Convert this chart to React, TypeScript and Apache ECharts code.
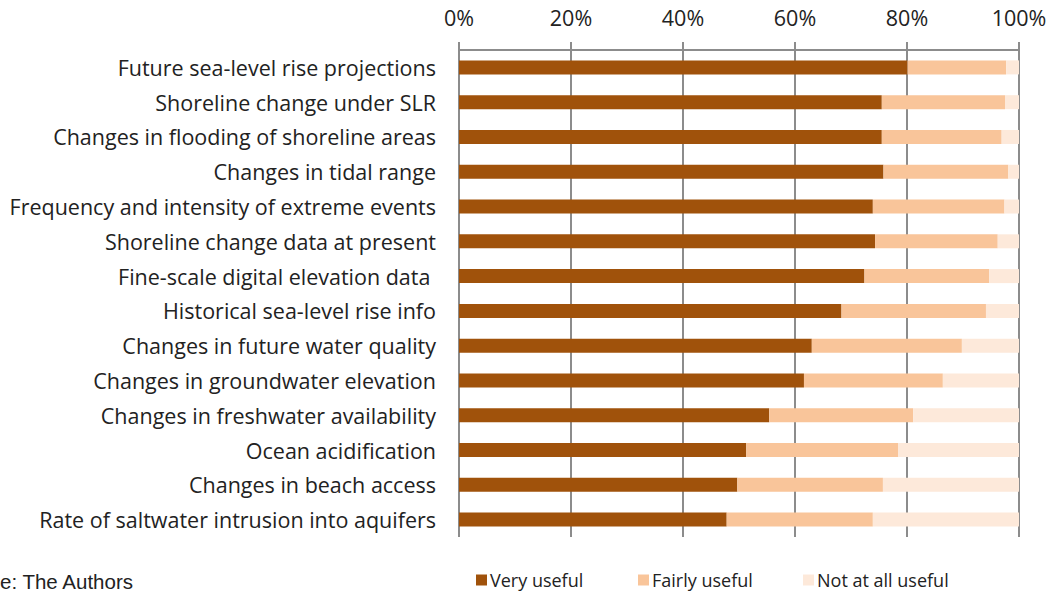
import React, { useEffect, useRef } from "react";
import * as echarts from "echarts";

const categories = [
  "Future sea-level rise projections",
  "Shoreline change under SLR",
  "Changes in flooding of shoreline areas",
  "Changes in tidal range",
  "Frequency and intensity of extreme events",
  "Shoreline change data at present",
  "Fine-scale digital elevation data ",
  "Historical sea-level rise info",
  "Changes in future water quality",
  "Changes in groundwater elevation",
  "Changes in freshwater availability",
  "Ocean acidification",
  "Changes in beach access",
  "Rate of saltwater intrusion into aquifers",
];

const veryUseful = [80.1, 75.5, 75.5, 75.8, 73.9, 74.3, 72.4, 68.3, 63.0, 61.6, 55.4, 51.3, 49.7, 47.8];
const fairlyUseful = [17.6, 22.0, 21.4, 22.3, 23.5, 21.9, 22.3, 25.8, 26.8, 24.8, 25.7, 27.1, 26.0, 26.1];
const notAtAllUseful = [2.3, 2.5, 3.1, 1.9, 2.6, 3.8, 5.3, 5.9, 10.2, 13.6, 18.9, 21.6, 24.3, 26.1];

const xTicks = ["0%", "20%", "40%", "60%", "80%", "100%"];

const seriesNames = ["Very useful", "Fairly useful", "Not at all useful"];
const colors = ["#A0520B", "#F9C59A", "#FDE9DA"];

export default function App() {
  const ref = useRef<HTMLDivElement>(null);
  useEffect(() => {
    if (!ref.current) return;
    const chart = echarts.init(ref.current, undefined, { renderer: "svg" });
    const font = "'Open Sans'";
    const dataSets = [veryUseful, fairlyUseful, notAtAllUseful];
    const legendLefts = [476, 638, 803];
    chart.setOption({
      animation: false,
      backgroundColor: "#ffffff",
      grid: { left: 459, right: 31, top: 50, bottom: 58, containLabel: false },
      xAxis: {
        type: "value",
        position: "top",
        min: 0,
        max: 100,
        interval: 20,
        axisLine: { show: true, lineStyle: { color: "#8c8c8c", width: 2 } },
        axisTick: { show: true, length: 8, lineStyle: { color: "#8c8c8c", width: 2 } },
        splitLine: { show: true, lineStyle: { color: "#8c8c8c", width: 2 } },
        axisLabel: {
          formatter: (v: number) => xTicks[Math.round(v / 20)],
          fontFamily: font,
          fontSize: 21.5,
          color: "#222",
          margin: 22,
        },
      },
      yAxis: {
        type: "category",
        inverse: true,
        data: categories,
        axisLine: { show: false },
        axisTick: { show: false },
        splitLine: { show: false },
        axisLabel: {
          fontFamily: font,
          fontSize: 21.5,
          color: "#222",
          margin: 23,
        },
      },
      legend: legendLefts.map((l, i) => ({
        data: [seriesNames[i]],
        left: l,
        top: 571,
        itemWidth: 11,
        itemHeight: 11,
        icon: "rect",
        itemGap: 5,
        padding: 0,
        textStyle: { fontFamily: font, fontSize: 18, color: "#222", padding: [0, 0, 0, -2] },
      })),
      graphic: [
        {
          type: "text",
          x: 0,
          y: 581,
          style: {
            text: "e: The Authors",
            font: "20.5px 'Liberation Sans', Arial, sans-serif",
            fill: "#222",
            textAlign: "left",
            textVerticalAlign: "middle",
          },
        },
      ],
      series: dataSets.map((d, i) => ({
        name: seriesNames[i],
        type: "bar",
        stack: "total",
        barWidth: 14,
        itemStyle: { color: colors[i] },
        data: d,
      })),
    });
    return () => chart.dispose();
  }, []);
  return (
    <div
      ref={ref}
      style={{ position: "fixed", left: 0, top: 0, width: 1050, height: 595 }}
    />
  );
}
